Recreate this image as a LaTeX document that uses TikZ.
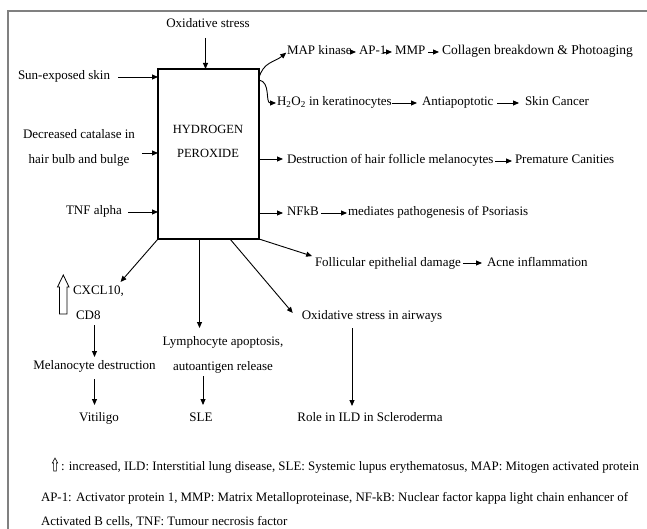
\documentclass[tikz,border=0pt]{standalone}
\usepackage{fontspec}
\setmainfont{Liberation Serif}
\usetikzlibrary{arrows.meta}
\begin{document}
\begin{tikzpicture}[x=1bp,y=-1bp,
  every node/.style={inner sep=0pt, outer sep=0pt, text height=9bp, text depth=3bp,
    font=\fontsize{13bp}{25bp}\selectfont},
  twoline/.style={align=center, text height=34bp},
  arr/.style={-{Triangle[length=6bp,width=5bp]}, line width=0.9bp},
  frame/.style={draw=gray, line width=1.4bp},
  hollow/.style={draw=black, line width=0.8bp, fill=white, line join=miter},
  legend/.style={anchor=west, text depth=2bp, font=\fontsize{12.9bp}{14bp}\selectfont}]
\useasboundingbox (0,0) rectangle (647,529);
\draw[frame] (8,529) -- (8,11) -- (647,11);

% central box
\node[draw, line width=1.2bp, minimum width=101bp, minimum height=170bp, text height=0bp, text depth=0bp] (hp) at (208.5,154) {};
\node[align=center, text height=33bp, font=\fontsize{12.5bp}{24bp}\selectfont] (hpt) at (208,143) {HYDROGEN\\PEROXIDE};

% inputs
\node (ox) at (208,25) {Oxidative stress};
\draw[arr, shorten <=7bp] ([xshift=-2.5bp]ox.south) -- ([xshift=-2.5bp]ox.south |- hp.north);
\node[anchor=west] (sun) at (18,77) {Sun-exposed skin};
\draw[arr, shorten <=8bp] (sun.east) -- (sun.east -| hp.west);
\node[twoline] (cat) at (79,148.5) {Decreased catalase in\\hair bulb and bulge};
\draw[arr, shorten <=7bp] ([yshift=-4.5bp]cat.east) -- ([yshift=-4.5bp]cat.east -| hp.west);
\node[anchor=east] (tnf) at (122,212) {TNF alpha};
\draw[arr, shorten <=6bp] (tnf.east) -- (tnf.east -| hp.west);

% right side, row 1
\node[anchor=west] (map) at (287,52) {MAP kinase};
\node[anchor=west] (ap) at (359,52) {AP-1};
\node[anchor=west] (mmp) at (395,52) {MMP};
\node[anchor=west, font=\fontsize{13.5bp}{25bp}\selectfont] (col) at (442,52) {Collagen breakdown \& Photoaging};
\draw[arr, shorten >=1bp] ([yshift=-9bp]hp.north east) .. controls +(4,-16) and +(-12,10) .. (map.west);
\draw[arr, shorten <=1bp, shorten >=3bp] (map.east) -- (ap.west);
\draw[arr, shorten <=3bp, shorten >=3bp] (ap.east) -- (mmp.west);
\draw[arr, shorten <=3bp, shorten >=3bp] (mmp.east) -- (col.west);

% row 2
\node[anchor=west] (h2) at (277,103) {H\textsubscript{2}O\textsubscript{2} in keratinocytes};
\node[anchor=west] (anti) at (422,103) {Antiapoptotic};
\node[anchor=west] (skin) at (525,103) {Skin Cancer};
\draw[arr, shorten >=1bp] ([yshift=-11bp]hp.north east) .. controls +(12,2) and +(-12,0) .. (h2.west);
\draw[arr, shorten >=5bp] (h2.east) -- (anti.west);
\draw[arr, shorten <=4bp, shorten >=6bp] (anti.east) -- (skin.west);

% row 3
\node[anchor=west] (des) at (287,161) {Destruction of hair follicle melanocytes};
\node[anchor=west] (prem) at (515,161) {Premature Canities};
\draw[arr, shorten >=4bp] ([yshift=2bp]hp.east |- des.west) -- ([yshift=2bp]des.west);
\draw[arr, shorten <=2bp, shorten >=3bp] (des.east) -- (prem.west);

% row 4
\node[anchor=west] (nf) at (287,213) {NFkB};
\node[anchor=west] (pso) at (348,213) {mediates pathogenesis of Psoriasis};
\draw[arr, shorten >=4bp] (hp.east |- nf.west) -- (nf.west);
\draw[arr, shorten <=2bp, shorten >=1bp] (nf.east) -- (pso.west);

% follicular
\node[anchor=west] (fol) at (315,263) {Follicular epithelial damage};
\node[anchor=west] (acne) at (487,263) {Acne inflammation};
\draw[arr, shorten >=3bp] (hp.south east) -- (fol.north west);
\draw[arr, shorten <=2bp, shorten >=5bp] (fol.east) -- (acne.west);

% airways
\node (air) at (372,316) {Oxidative stress in airways};
\node (role) at (370,418) {Role in ILD in Scleroderma};
\draw[arr] ([xshift=21.5bp]hp.south) -- ([xshift=-9bp,yshift=3bp]air.west);
\draw[arr, shorten <=6bp, shorten >=6bp] ([xshift=-20bp]air.south) -- ([xshift=-20bp]air.south |- role.north);

% lymphocyte
\node[twoline] (lym) at (223,354.5) {Lymphocyte apoptosis,\\autoantigen release};
\node (sle) at (201,418) {SLE};
\draw[arr, shorten >=8bp] ([xshift=-9bp]hp.south) -- ([xshift=-9bp]hp.south |- lym.north);
\draw[arr, shorten <=3bp, shorten >=7bp] ([xshift=2bp]sle.north |- lym.south) -- ([xshift=2bp]sle.north);

% vitiligo branch
\node[anchor=west] (cx) at (73,291) {CXCL10,};
\node[anchor=west] (cd) at (76,316) {CD8};
\draw[arr, shorten >=4bp] (hp.south west) -- ([xshift=-6bp]cx.north east);
\draw[hollow] (59.5,314) -- (59.5,287) -- (57.5,287) -- (63.3,275) -- (69,287) -- (67,287) -- (67,314) -- cycle;
\node (mel) at (94.5,366) {Melanocyte destruction};
\node (vit) at (99,418) {Vitiligo};
\draw[arr, shorten <=3bp, shorten >=3bp] (mel.north |- cd.south) -- (mel.north);
\draw[arr, shorten <=7bp, shorten >=7bp] (mel.south) -- (mel.south |- vit.north);

% legend
\draw[hollow, line width=0.6bp] (53.6,471) -- (53.6,463) -- (52.3,463) -- (55,458) -- (57.7,463) -- (56.4,463) -- (56.4,471) -- cycle;
\node[legend] (leg1) at (61,467) {: increased, ILD: Interstitial lung disease, SLE: Systemic lupus erythematosus, MAP: Mitogen activated protein};
\node[legend] (leg2) at (41,498) {AP-1: Activator protein 1, MMP: Matrix Metalloproteinase, NF-kB: Nuclear factor kappa light chain enhancer of};
\node[legend] (leg3) at (41,522) {Activated B cells, TNF: Tumour necrosis factor};
\end{tikzpicture}
\end{document}
